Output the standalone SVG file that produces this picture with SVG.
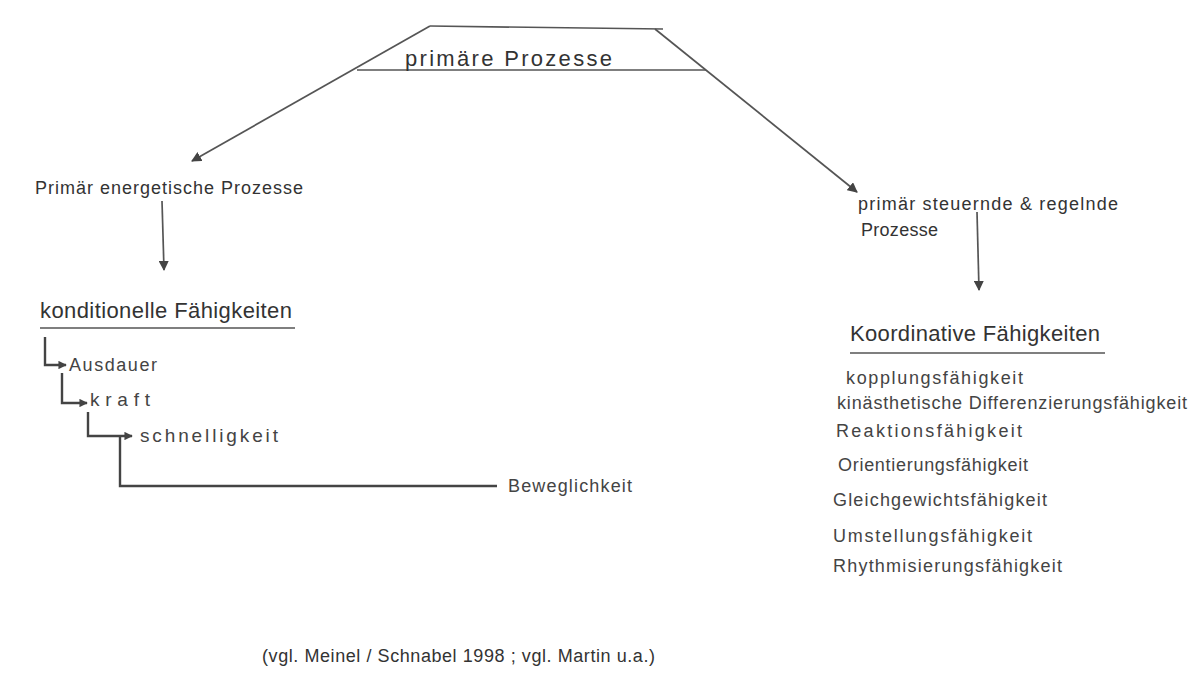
<svg xmlns="http://www.w3.org/2000/svg" width="1198" height="690" viewBox="0 0 1198 690">
<defs>
<style>
.t{font-family:"Liberation Sans","DejaVu Sans",sans-serif;fill:#333;}
.h{font-size:22px;}
.m{font-size:18px;}
.s{font-size:18px;fill:#444;}
.b{font-size:19px;}
.ln{stroke:#555;stroke-width:1.7;fill:none;}
.br{stroke:#444;stroke-width:2.4;fill:none;}
</style>
<marker id="ah" viewBox="0 0 10 10" refX="9" refY="5" markerWidth="6" markerHeight="6" orient="auto">
<path d="M0,0 L10,5 L0,10 z" fill="#444"/>
</marker>
<marker id="as" viewBox="0 0 10 10" refX="9" refY="5" markerWidth="3.5" markerHeight="3.5" orient="auto">
<path d="M0,0 L10,5 L0,10 z" fill="#444"/>
</marker>
</defs>
<rect width="1198" height="690" fill="#fff"/>

<g id="connectors">
<line class="ln" x1="430" y1="26" x2="192" y2="161" marker-end="url(#ah)"/>
<line class="ln" x1="655" y1="29" x2="857" y2="192" marker-end="url(#ah)"/>
<line class="ln" x1="162" y1="201" x2="164" y2="270" marker-end="url(#ah)"/>
<line class="ln" x1="977" y1="212" x2="979" y2="290" marker-end="url(#ah)"/>
<path class="br" d="M45,337 V365 H66" marker-end="url(#as)"/>
<path class="br" d="M62,373 V403 H87" marker-end="url(#as)"/>
<path class="br" d="M88,412 V436 H132" marker-end="url(#as)"/>
<path class="br" d="M120,436 V486 H497"/>
</g>

<g id="primaere-prozesse">
<line class="ln" x1="430" y1="26" x2="663" y2="29"/>
<line class="ln" x1="357" y1="70" x2="706" y2="70"/>
<text class="t h" x="405" y="66" textLength="207" lengthAdjust="spacing">primäre   Prozesse</text>
</g>

<g id="energetische">
<text class="t m" x="35" y="194" textLength="268" lengthAdjust="spacing">Primär energetische Prozesse</text>
</g>

<g id="konditionelle">
<text class="t h" x="40" y="318" textLength="252" lengthAdjust="spacing">konditionelle  Fähigkeiten</text>
<line class="ln" x1="40" y1="328" x2="295" y2="328"/>
<text class="t s" x="69" y="371" textLength="88" lengthAdjust="spacing">Ausdauer</text>
<text class="t s b" x="90" y="406" textLength="60" lengthAdjust="spacing">kraft</text>
<text class="t s b" x="140" y="442" textLength="138" lengthAdjust="spacing">schnelligkeit</text>
<text class="t s" x="508" y="492" textLength="124" lengthAdjust="spacing">Beweglichkeit</text>
</g>

<g id="steuernde">
<text class="t m" x="858" y="210" textLength="260" lengthAdjust="spacing">primär steuernde &amp; regelnde</text>
<text class="t m" x="861" y="236" textLength="77" lengthAdjust="spacing">Prozesse</text>
</g>

<g id="koordinative">
<text class="t h" x="850" y="341" textLength="250" lengthAdjust="spacing">Koordinative  Fähigkeiten</text>
<line class="ln" x1="850" y1="353" x2="1105" y2="353"/>
<text class="t s" x="846" y="384" textLength="177" lengthAdjust="spacing">kopplungsfähigkeit</text>
<text class="t s" x="837" y="409" textLength="350" lengthAdjust="spacing">kinästhetische  Differenzierungsfähigkeit</text>
<text class="t s" x="836" y="437" textLength="186" lengthAdjust="spacing">Reaktionsfähigkeit</text>
<text class="t s" x="838" y="471" textLength="190" lengthAdjust="spacing">Orientierungsfähigkeit</text>
<text class="t s" x="833" y="506" textLength="214" lengthAdjust="spacing">Gleichgewichtsfähigkeit</text>
<text class="t s" x="833" y="542" textLength="199" lengthAdjust="spacing">Umstellungsfähigkeit</text>
<text class="t s" x="833" y="572" textLength="229" lengthAdjust="spacing">Rhythmisierungsfähigkeit</text>
</g>

<g id="quelle">
<text class="t m" x="262" y="662" textLength="393" lengthAdjust="spacing">(vgl. Meinel / Schnabel  1998 ; vgl. Martin u.a.)</text>
</g>
</svg>
